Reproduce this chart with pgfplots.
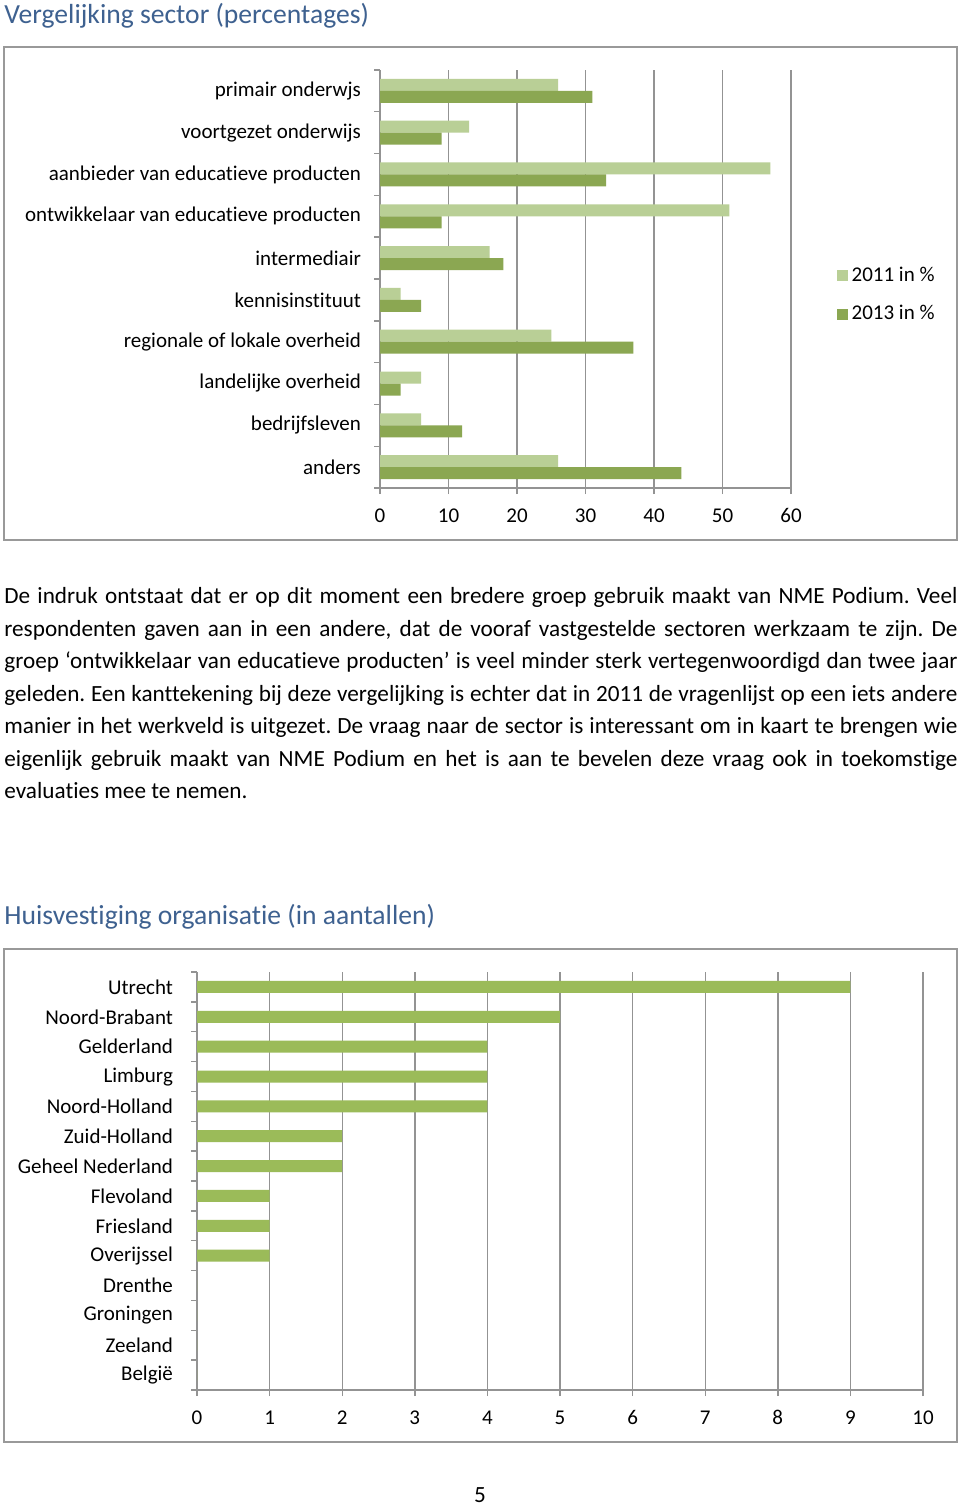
\documentclass[border=0pt]{standalone}
\usepackage{fontspec}
\setmainfont{Carlito}[Ligatures={NoCommon}]
\usepackage{pgfplots}
\pgfplotsset{compat=1.18}
\definecolor{c2011}{HTML}{B9CF96}
\definecolor{c2013}{HTML}{8BA752}
\definecolor{cc}{HTML}{9BBB59}
\definecolor{gridc}{HTML}{939393}
\definecolor{framec}{HTML}{999999}
\definecolor{headc}{HTML}{3E6190}
\pgfplotsset{
  mystyle/.style={
    scale only axis, xbar, bar width=6pt,
    axis x line*=bottom, axis y line*=left,
    axis line style={gridc, line width=0.7pt},
    every tick/.style={gridc, line width=0.7pt},
    tick align=outside, major tick length=3pt, minor tick length=3pt,
    xmajorgrids, grid style={gridc, line width=0.7pt},
    major y tick style={draw=none},
    minor y tick style={gridc, line width=0.7pt},
    tick label style={font=\fontsize{10.5}{12}\selectfont, text=black},
    xticklabel style={yshift=-3.5pt, text height=7pt, text depth=0pt},
    /pgf/number format/assume math mode=true,
    clip=false,
  }
}
\begin{document}
\begin{tikzpicture}
\begin{scope}[x=0.5pt,y=-0.5pt]
\path[use as bounding box, fill=white] (0,0) rectangle (960,1508);
\node[anchor=west, text=headc, font=\fontsize{13.8}{16}\selectfont, inner sep=0] at (4,16) {Vergelijking sector (percentages)};
\draw[framec, line width=0.8pt] (4,47) rectangle (957,540);
\coordinate (A1) at (380,488);
\node[anchor=west, text=headc, font=\fontsize{13.8}{16}\selectfont, inner sep=0] at (4,917) {Huisvestiging organisatie (in aantallen)};
\draw[framec, line width=0.8pt] (4,949) rectangle (957,1442);
\coordinate (A2) at (197,1390);
\node[anchor=north west, inner sep=0, text width=476.5pt, align=justify, font=\fontsize{11.6}{16.25}\selectfont] at (4,587) {\frenchspacing\hyphenpenalty=10000 De indruk ontstaat dat er op dit moment een bredere groep gebruik maakt van NME Podium. Veel\linebreak respondenten gaven aan in een andere, dat de vooraf vastgestelde sectoren werkzaam te zijn. De\linebreak groep ‘ontwikkelaar van educatieve producten’ is veel minder sterk vertegenwoordigd dan twee jaar\linebreak geleden. Een kanttekening bij deze vergelijking is echter dat in 2011 de vragenlijst op een iets andere\linebreak manier in het werkveld is uitgezet. De vraag naar de sector is interessant om in kaart te brengen wie\linebreak eigenlijk gebruik maakt van NME Podium en het is aan te bevelen deze vraag ook in toekomstige\linebreak evaluaties mee te nemen.};
\node[font=\fontsize{11.6}{13}\selectfont, inner sep=0] at (480,1495) {5};
\end{scope}

\begin{axis}[mystyle, at={(A1)}, anchor=south west, width=205.5pt, height=209pt,
  xmin=0, xmax=60, ymin=-0.5, ymax=9.5,
  xtick={0,10,...,60},
  ytick={0,...,9},
  yticklabels={anders, bedrijfsleven, landelijke overheid, regionale of lokale overheid, kennisinstituut, intermediair, ontwikkelaar van educatieve producten\hspace{2.5pt}, aanbieder van educatieve producten\hspace{2.5pt}, voortgezet onderwijs, primair onderwjs},
  minor ytick={-0.5,0.5,...,9.5},
  yticklabel style={xshift=-3pt},
  legend style={at={(1.11,0.462)}, anchor=west, draw=none, fill=none,
    font=\fontsize{10.5}{12}\selectfont, row sep=6.5pt, inner sep=0pt},
  legend cell align=left,
  legend image code/.code={\fill[#1,draw=none] (0pt,-2.75pt) rectangle (5.5pt,2.75pt);},
]
\addplot[fill=c2011, draw=none, bar shift=3pt] coordinates {
 (26,0) (6,1) (6,2) (25,3) (3,4) (16,5) (51,6) (57,7) (13,8) (26,9)};
\addlegendentry{2011 in \%}
\addplot[fill=c2013, draw=none, bar shift=-3pt] coordinates {
 (44,0) (12,1) (3,2) (37,3) (6,4) (18,5) (9,6) (33,7) (9,8) (31,9)};
\addlegendentry{2013 in \%}
\end{axis}

\begin{axis}[mystyle, at={(A2)}, anchor=south west, width=363pt, height=209pt,
  xmin=0, xmax=10, ymin=-0.5, ymax=13.5,
  xtick={0,1,...,10},
  ytick={0,...,13},
  yticklabels={België, Zeeland, Groningen, Drenthe\hspace{-2pt}, Overijssel, Friesland, Flevoland, Geheel Nederland, Zuid-Holland, Noord-Holland, Limburg, Gelderland\hspace{-1.5pt}, Noord-Brabant, Utrecht},
  minor ytick={-0.5,0.5,...,13.5},
  yticklabel style={xshift=-5.5pt},
]
\addplot[fill=cc, draw=none, bar shift=0pt] coordinates {
 (0,0) (0,1) (0,2) (0,3) (1,4) (1,5) (1,6) (2,7) (2,8) (4,9) (4,10) (4,11) (5,12) (9,13)};
\end{axis}
\end{tikzpicture}
\end{document}
